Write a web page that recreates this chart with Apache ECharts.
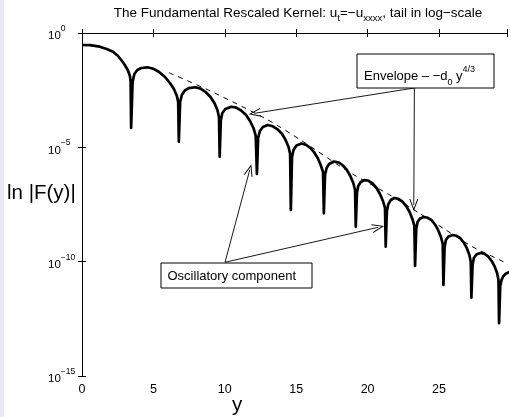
<!DOCTYPE html>
<html><head><meta charset="utf-8">
<script src="https://cdn.jsdelivr.net/npm/echarts@6/dist/echarts.min.js"></script>
<style>html,body{margin:0;padding:0;background:#fff}#c{width:510px;height:417px}</style>
</head><body><div id="c"></div>
<script>
// variable y (horizontal axis)
const yVals = [
 0,0.554,1.246,1.730,2.166,2.491,2.747,2.976,3.204,3.356,3.405,3.439,
 3.543,3.668,3.875,4.152,4.588,4.983,5.398,5.813,6.159,6.436,6.644,6.734,6.782,
 6.872,6.990,7.197,7.474,7.938,8.304,8.651,8.997,9.273,9.481,9.592,9.640,
 9.723,9.827,10.035,10.471,10.796,11.142,11.488,11.765,12.007,12.166,12.249,
 12.332,12.457,12.664,13.010,13.356,13.702,14.014,14.256,14.464,14.574,14.623,
 14.706,14.810,15.017,15.363,15.709,15.986,16.263,16.505,16.713,16.879,16.934,
 17.017,17.128,17.301,17.647,17.993,18.270,18.547,18.789,18.997,19.121,19.170,
 19.253,19.343,19.516,19.792,20.069,20.346,20.623,20.865,21.073,21.218,21.266,
 21.349,21.453,21.626,21.869,22.145,22.422,22.699,22.941,23.135,23.273,23.322,
 23.405,23.495,23.668,23.945,24.221,24.498,24.740,24.948,25.135,25.260,25.308,
 25.391,25.481,25.661,25.952,26.228,26.505,26.747,26.955,27.128,27.225,27.266,
 27.349,27.439,27.612,27.889,28.166,28.443,28.685,28.893,29.066,29.163,29.204,
 29.287,29.377,29.516,29.689,29.965
];
// log10 |F(y)|
const log10AbsF = [
 -0.525,-0.533,-0.599,-0.700,-0.818,-0.984,-1.181,-1.377,-1.618,-1.880,-2.099,-4.154,
 -2.143,-1.793,-1.618,-1.530,-1.500,-1.561,-1.705,-1.924,-2.186,-2.449,-2.755,-3.017,-4.753,
 -3.017,-2.711,-2.514,-2.414,-2.374,-2.431,-2.580,-2.798,-3.061,-3.367,-3.673,-5.409,
 -3.804,-3.498,-3.323,-3.223,-3.266,-3.389,-3.585,-3.848,-4.154,-4.504,-6.166,
 -4.591,-4.285,-4.110,-4.023,-4.080,-4.219,-4.416,-4.679,-4.985,-5.291,-7.739,
 -5.422,-5.116,-4.919,-4.832,-4.897,-5.028,-5.225,-5.466,-5.772,-6.078,-7.884,
 -6.209,-5.903,-5.728,-5.619,-5.662,-5.794,-5.990,-6.253,-6.559,-6.865,-8.470,
 -6.996,-6.690,-6.515,-6.428,-6.463,-6.581,-6.778,-7.040,-7.346,-7.652,-9.344,
 -7.783,-7.477,-7.302,-7.215,-7.250,-7.368,-7.565,-7.827,-8.133,-8.439,-10.188,
 -8.570,-8.264,-8.111,-8.045,-8.080,-8.198,-8.395,-8.636,-8.920,-9.226,-11.019,
 -9.357,-9.051,-8.898,-8.832,-8.867,-8.985,-9.182,-9.423,-9.707,-10.013,-11.574,
 -10.144,-9.838,-9.685,-9.619,-9.654,-9.772,-9.969,-10.210,-10.494,-10.800,-12.694,
 -11.062,-10.800,-10.625,-10.516,-10.450
];
// dashed envelope
const envY = [6.09, 9.09, 13.01, 15.31, 18.66, 21.54, 23.62, 25.47, 27.32, 29.50, 30.0];
const envLog10 = [-1.736, -2.567, -3.80, -4.68, -6.06, -7.08, -7.88, -8.61, -9.34, -10.0, -10.2];
// tick values
const xTicks = [0, 5, 10, 15, 20, 25];
const yTickExps = [-15, -10, -5, 0];
// annotation arrows: [fromY, fromLog, toY, toLog]
const envArrows = [[23.275, -2.405, 12.091, -3.511], [23.275, -2.405, 23.234, -7.521]];
const oscArrows = [[10.015, -10.026, 11.745, -5.990], [10.015, -10.026, 20.742, -8.496]];

const FONT = '"Liberation Sans", Arial, Helvetica, sans-serif';
const chart = echarts.init(document.getElementById('c'), null, {renderer: 'canvas'});
const minus = v => (v < 0 ? '\u2212' + (-v) : '' + v);
const arrowHead = 'path://M5,0 L10,11 L8.9,11 L5,2.4 L1.1,11 L0,11 Z';
const arrowLines = envArrows.concat(oscArrows).map(a => [{coord: [a[0], a[1]]}, {coord: [a[2], a[3]]}]);

const option = {
  animation: false,
  backgroundColor: '#ffffff',
  grid: {left: 82, top: 33, width: 430, height: 343},
  xAxis: [{
    type: 'value', min: 0, max: 29.76, interval: 5,
    axisLine: {lineStyle: {color: '#000', width: 1}},
    axisTick: {inside: true, length: 4, lineStyle: {color: '#000'}},
    axisLabel: {color: '#000', fontSize: 12.5, fontFamily: FONT, margin: 7,
      formatter: v => (xTicks.indexOf(v) >= 0 ? '' + v : '')},
    splitLine: {show: false}
  }, {
    type: 'value', position: 'top', min: 0, max: 29.76, interval: 5,
    axisLine: {lineStyle: {color: '#000', width: 1}},
    axisTick: {inside: true, length: 4, lineStyle: {color: '#000'}},
    axisLabel: {show: false}, splitLine: {show: false}
  }],
  yAxis: [{
    type: 'value', min: -15, max: 0, interval: 5,
    axisLine: {show: true, lineStyle: {color: '#000', width: 1}},
    axisTick: {show: true, inside: true, length: 4, lineStyle: {color: '#000'}},
    axisLabel: {
      color: '#000', fontFamily: FONT, align: 'left', margin: 34,
      formatter: v => (yTickExps.indexOf(v) >= 0 ? '{b|10}{s|' + minus(v) + '}{h| }' : ''),
      rich: {
        b: {fontSize: 11.5, fontFamily: FONT, color: '#000', lineHeight: 14, verticalAlign: 'bottom'},
        s: {fontSize: 8.5, fontFamily: FONT, color: '#000', lineHeight: 10, verticalAlign: 'top'},
        h: {fontSize: 1, lineHeight: 18, verticalAlign: 'middle'}
      }
    },
    splitLine: {show: false}
  }, {
    type: 'value', position: 'right', min: -15, max: 0, interval: 5,
    axisLine: {show: true, lineStyle: {color: '#000', width: 1}},
    axisTick: {show: true, inside: true, length: 4, lineStyle: {color: '#000'}},
    axisLabel: {show: false}, splitLine: {show: false}
  }],
  series: [{
    type: 'line', name: '|F|', xAxisIndex: 0, yAxisIndex: 0,
    data: yVals.map((x, i) => [x, log10AbsF[i]]),
    showSymbol: false, symbol: 'none', clip: true,
    lineStyle: {color: '#000', width: 2.7, join: 'round'}
  }, {
    type: 'line', name: 'envelope', xAxisIndex: 0, yAxisIndex: 0,
    data: envY.map((x, i) => [x, envLog10[i]]),
    showSymbol: false, symbol: 'none', clip: true, smooth: 0.3,
    lineStyle: {color: '#000', width: 1, type: [5, 5]},
    markLine: {
      silent: true, animation: false,
      symbol: ['none', arrowHead], symbolSize: [9, 12],
      label: {show: false},
      lineStyle: {color: '#000', width: 0.9, type: 'solid'},
      emphasis: {disabled: true},
      data: arrowLines
    }
  }],
  graphic: [
    {type: 'rect', left: 0, top: 0, shape: {x: 0, y: 0, width: 4, height: 417}, style: {fill: '#e8e8f2'}, silent: true},
    {type: 'text', x: 298, y: 13, silent: true, style: {
      text: '{n|The Fundamental Rescaled Kernel: u}{sub|t}{n|=\u2212u}{sub|xxxx}{n|, tail in log\u2212scale}',
      align: 'center', verticalAlign: 'middle', fill: '#000',
      rich: {
        n: {fontSize: 13.5, fontFamily: FONT, fill: '#000', lineHeight: 14, verticalAlign: 'top'},
        sub: {fontSize: 9.5, fontFamily: FONT, fill: '#000', lineHeight: 10, padding: [7, 0, 0, 0], verticalAlign: 'top'}
      }}},
    {type: 'text', x: 7, y: 193, silent: true, style: {text: 'ln |F(y)|', font: '20.5px ' + FONT, fill: '#000', align: 'left', verticalAlign: 'middle'}},
    {type: 'text', x: 237, y: 405, silent: true, style: {text: 'y', font: '20.5px ' + FONT, fill: '#000', align: 'center', verticalAlign: 'middle'}},
    {type: 'rect', silent: true, shape: {x: 357, y: 54, width: 137, height: 34}, style: {fill: '#fff', stroke: '#000', lineWidth: 1}, z: 100},
    {type: 'text', x: 364, y: 72, silent: true, z: 101, style: {
      text: '{n|Envelope \u2013 \u2212d}{sub|0}{n| y}{sup|4/3}',
      align: 'left', verticalAlign: 'middle',
      rich: {
        n: {fontSize: 13, fontFamily: FONT, fill: '#000', lineHeight: 14, padding: [5, 0, 0, 0], verticalAlign: 'top'},
        sub: {fontSize: 9, fontFamily: FONT, fill: '#000', lineHeight: 10, padding: [13, 0, 0, 0], verticalAlign: 'top'},
        sup: {fontSize: 9, fontFamily: FONT, fill: '#000', lineHeight: 10, verticalAlign: 'top'}
      }}},
    {type: 'rect', silent: true, shape: {x: 161, y: 263, width: 151, height: 25}, style: {fill: '#fff', stroke: '#000', lineWidth: 1}, z: 100},
    {type: 'text', x: 167.5, y: 276, silent: true, z: 101, style: {text: 'Oscillatory component', font: '13px ' + FONT, fill: '#000', align: 'left', verticalAlign: 'middle'}}
  ]
};
chart.setOption(option);
</script>
</body></html>
